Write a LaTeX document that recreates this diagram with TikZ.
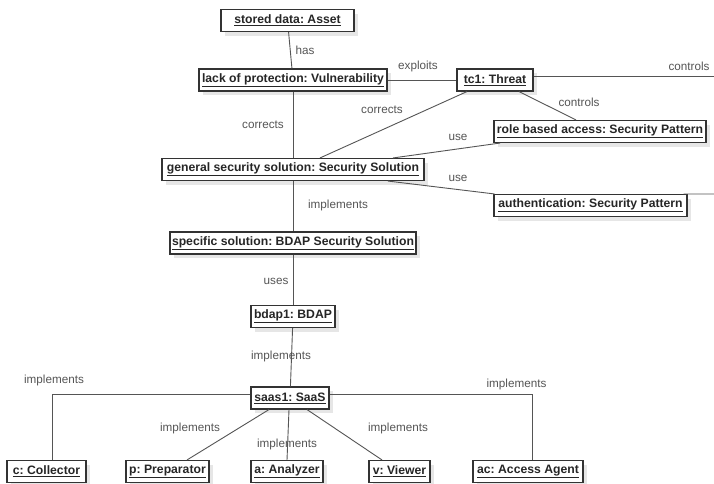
\documentclass[tikz,border=0pt]{standalone}
\usepackage{fontspec}
\setmainfont{Liberation Sans}
\frenchspacing
\usetikzlibrary{shadows}
\definecolor{linegray}{HTML}{555555}
\definecolor{labelgray}{HTML}{555555}
\definecolor{boxline}{HTML}{333333}
\definecolor{shadowgray}{HTML}{E6E6E6}
\tikzset{
  obj/.style={draw=boxline, line width=1.1pt, fill=white, inner sep=0pt,
    minimum height=22pt, text=black!85,
    font=\fontsize{12.2}{14}\selectfont\bfseries\frenchspacing,
    drop shadow={shadow xshift=4pt, shadow yshift=-4pt, fill=shadowgray, opacity=1, draw=none}},
  lbl/.style={text=labelgray, inner sep=0pt, font=\fontsize{11.7}{13}\selectfont},
  conn/.style={draw=linegray, line width=0.9pt}
}
\begin{document}
\begin{tikzpicture}[x=1pt,y=-1pt]
\fill[white] (0,0) rectangle (714,483);
\useasboundingbox (0,0) rectangle (714,483);

% boxes
\node[obj, minimum width=133pt] (asset) at (287.5,20.5) {\underline{stored data: Asset}};
\node[obj, minimum width=188pt] (vuln) at (293,80) {\underline{lack of protection: Vulnerability}};
\node[obj, minimum width=76pt] (threat) at (495,80) {\underline{tc1: Threat}};
\node[obj, minimum width=212pt] (role) at (600,131.5) {\underline{role based access: Security Pattern}};
\node[obj, minimum width=193pt] (auth) at (590.5,205.5) {\underline{authentication: Security Pattern}};
\node[obj, minimum width=262pt] (general) at (293,169.5) {\underline{general security solution: Security Solution}};
\node[obj, minimum width=246pt] (specific) at (293,243) {\underline{specific solution: BDAP Security Solution}};
\node[obj, minimum width=84pt] (bdap) at (293,316.5) {\underline{bdap1: BDAP}};
\node[obj, minimum width=78pt] (saas) at (290,398) {\underline{saas1: SaaS}};
\node[obj, minimum width=79pt] (coll) at (46.5,471.5) {\underline{c: Collector}};
\node[obj, minimum width=83pt] (prep) at (167.5,471.5) {\underline{p: Preparator}};
\node[obj, minimum width=72pt] (anal) at (287,471.5) {\underline{a: Analyzer}};
\node[obj, minimum width=61pt] (view) at (399.5,471.5) {\underline{v: Viewer}};
\node[obj, minimum width=110pt] (agent) at (528,471.5) {\underline{ac: Access Agent}};

\coordinate (tr) at (714,76);
\coordinate (ar) at (714,194);

% connectors
\draw[conn] (asset) -- (vuln);
\draw[conn] (vuln) -- (threat);
\draw[conn] (threat.east |- tr) -- (tr);
\draw[conn] ([xshift=24pt]threat.south) -- ([xshift=-24pt]role.north);
\draw[conn] ([xshift=-28pt]threat.south) -- ([xshift=27pt]general.north);
\draw[conn] (vuln) -- (general);
\draw[conn] ([xshift=-100pt]role.south) -- ([xshift=100pt]general.north);
\draw[conn] ([xshift=95pt]general.south) -- ([xshift=1pt]auth.north west);
\draw[conn] ([xshift=-4pt]auth.north east) -- (ar);
\draw[conn] (general) -- (specific);
\draw[conn] (specific) -- (bdap);
\draw[conn] (bdap) -- (saas);
\draw[conn] ([yshift=4pt]saas.west) -| ([xshift=5.5pt]coll.north);
\draw[conn] ([yshift=4pt]saas.east) -| ([xshift=4pt]agent.north);
\draw[conn] ([xshift=-21pt]saas.south) -- ([xshift=19.5pt]prep.north);
\draw[conn] ([xshift=-1pt]saas.south) -- (anal.north);
\draw[conn] ([xshift=17pt]saas.south) -- ([xshift=-17.5pt]view.north);

% labels
\node[lbl] (lhas) at (305,50) {has};
\node[lbl] (lexp) at (418,66) {exploits};
\node[lbl] (lctr1) at (689,66) {controls};
\node[lbl] (lctr2) at (579,102) {controls};
\node[lbl] (lcor1) at (263,125) {corrects};
\node[lbl] (lcor2) at (382,110) {corrects};
\node[lbl] (luse1) at (458,137) {use};
\node[lbl] (luse2) at (458,178) {use};
\node[lbl] (limp1) at (338,205) {implements};
\node[lbl] (luses) at (276,281) {uses};
\node[lbl] (limp2) at (281,356) {implements};
\node[lbl] (limp3) at (54,380) {implements};
\node[lbl] (limp4) at (190,428) {implements};
\node[lbl] (limp5) at (287,444) {implements};
\node[lbl] (limp6) at (398,428) {implements};
\node[lbl] (limp7) at (516.5,384) {implements};
\end{tikzpicture}
\end{document}
